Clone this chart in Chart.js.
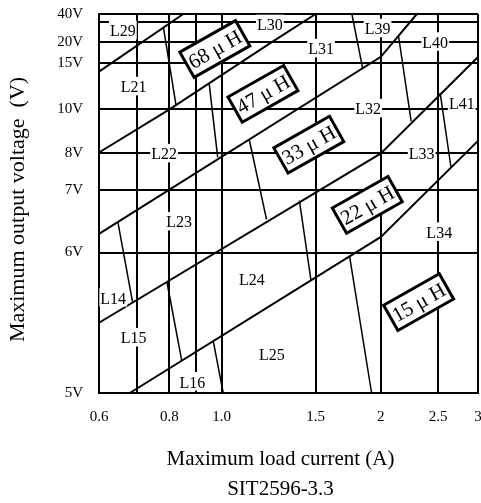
<!DOCTYPE html>
<html><head><meta charset="utf-8">
<script src="https://cdn.jsdelivr.net/npm/chart.js@4.4.1/dist/chart.umd.min.js"></script>
<style>html,body{margin:0;padding:0;background:#fff;}</style>
</head><body>
<canvas id="c" width="481" height="503" style="width:481px;height:503px;display:block"></canvas>
<script>
// ---------- data ----------
const currentTicks = [0.6, 0.7, 0.8, 0.9, 1.0, 1.5, 2, 2.5, 3];
const currentTickLabels = ['0.6', '', '0.8', '', '1.0', '1.5', '2', '2.5', '3'];
const voltageTicks = [5, 6, 7, 8, 10, 15, 20, 30, 40];
const voltageTickLabels = ['5V', '6V', '7V', '8V', '10V', '15V', '20V', '', '40V'];

// inductance band boundaries [current (A), voltage (V)]
const boundary100_68 = [[0.6, 14.1], [0.853, 40]];
const boundary68_47 = [[0.6, 8.04], [0.8, 10], [1.257, 19.6], [1.5, 40]];
const boundary47_33 = [[0.6, 6.3], [2.0, 16.5], [2.314, 40]];
const boundary33_22 = [[0.6, 5.5], [2.0, 8.0], [3.0, 16.46]];
const boundary22_15 = [[0.68, 5.0], [2.0, 6.25], [3.0, 8.57]];

// inductor code boundaries inside the bands
const split21_30 = [[0.781, 27.3], [0.825, 10.47]];
const split22_31 = [[0.952, 12.85], [0.985, 7.89]];
const split31_39 = [[1.778, 40], [1.860, 14.5]];
const split14_23 = [[0.649, 6.49], [0.687, 5.65]];
const split23_32 = [[1.147, 8.63], [1.239, 6.53]];
const split32_40 = [[2.154, 22.9], [2.264, 9.47]];
const split15_24 = [[0.792, 5.79], [0.847, 5.23]];
const split24_33 = [[1.414, 6.83], [1.476, 5.80]];
const split33_41 = [[2.525, 11.77], [2.66, 7.63]];
const split16_25 = [[0.968, 5.37], [1.0085, 5.0]];
const split25_34 = [[1.761, 5.97], [1.929, 5.0]];

const regionNames   = ['L29','L21','L22','L30','L31','L39','L40','L32','L41','L33','L34','L23','L14','L15','L24','L16','L25'];
const regionCurrent = [0.662,0.690,0.783,1.257,1.542,1.975,2.474,1.903,2.796,2.356,2.513,0.837,0.637,0.690,1.1615,0.888,1.268];
const regionVoltage = [25.4,12.42,7.98,28.5,18.31,26.45,19.81,10.03,10.58,8.0,6.318,6.486,5.674,5.39,5.803,5.076,5.276];

const inductorNames   = ['68 μ H', '47 μ H', '33 μ H', '22 μ H', '15 μ H'];
const inductorCurrent = [0.974, 1.22, 1.464, 1.896, 2.329];
const inductorVoltage = [18.31, 11.69, 8.395, 6.763, 5.647];

const xTitle = 'Maximum load current (A)';
const subTitle = 'SIT2596-3.3';
const yTitle = 'Maximum output voltage  (V)';

// ---------- piecewise scale (axis layout of the printed chart) ----------
class PiecewiseScale extends Chart.Scale {
  determineDataLimits() {
    const b = this.options.breaks;
    this.min = b[0]; this.max = b[b.length - 1];
  }
  buildTicks() { return this.options.breaks.map(v => ({ value: v })); }
  getLabelForValue(v) { return String(v); }
  _dec(v) {
    const b = this.options.breaks, d = this.options.fractions, n = b.length - 1;
    let i = 1;
    while (i < n && v > b[i]) i++;
    return d[i - 1] + (v - b[i - 1]) / (b[i] - b[i - 1]) * (d[i] - d[i - 1]);
  }
  getPixelForValue(v) { return this.getPixelForDecimal(this._dec(v)); }
  getPixelForTick(i) { return this.getPixelForValue(this.ticks[i].value); }
  getValueForPixel(p) {
    const dec = this.getDecimalForPixel(p);
    const b = this.options.breaks, d = this.options.fractions, n = b.length - 1;
    let i = 1;
    while (i < n && dec > d[i]) i++;
    return b[i - 1] + (dec - d[i - 1]) / (d[i] - d[i - 1]) * (b[i] - b[i - 1]);
  }
}
PiecewiseScale.id = 'piecewise';
PiecewiseScale.defaults = {};
Chart.register(PiecewiseScale);

const FONT = "'Liberation Serif', 'Times New Roman', serif";
Chart.defaults.font.family = FONT;
Chart.defaults.color = '#000';

const toPts = arr => arr.map(p => ({ x: p[0], y: p[1] }));
const bandLines = [boundary100_68, boundary68_47, boundary47_33, boundary33_22, boundary22_15];
const splitLines = [split21_30, split22_31, split31_39, split14_23, split23_32, split32_40,
                    split15_24, split24_33, split33_41, split16_25, split25_34];

const datasets = [];
bandLines.forEach(l => datasets.push({ data: toPts(l), borderColor: '#000', borderWidth: 2, pointRadius: 0, fill: false, tension: 0 }));
splitLines.forEach(l => datasets.push({ data: toPts(l), borderColor: '#000', borderWidth: 1.5, pointRadius: 0, fill: false, tension: 0 }));

const annotPlugin = {
  id: 'annot',
  afterDatasetsDraw(chart) {
    const { ctx } = chart;
    const xs = chart.scales.x, ys = chart.scales.y;
    ctx.save();
    // region codes
    const fs = 16;
    ctx.font = fs + 'px ' + FONT;
    ctx.textAlign = 'center';
    ctx.textBaseline = 'alphabetic';
    regionNames.forEach((t, i) => {
      const px = xs.getPixelForValue(regionCurrent[i]);
      const py = ys.getPixelForValue(regionVoltage[i]);
      const w = ctx.measureText(t).width;
      const base = py + fs * 0.33;
      ctx.fillStyle = '#fff';
      ctx.fillRect(px - w / 2 - 1, base - fs * 0.66 - 5, w + 2, fs * 0.66 + 8);
      ctx.fillStyle = '#000';
      ctx.fillText(t, px, base);
    });
    // inductance boxes
    const bf = 21;
    inductorNames.forEach((t, i) => {
      const px = xs.getPixelForValue(inductorCurrent[i]);
      const py = ys.getPixelForValue(inductorVoltage[i]);
      ctx.save();
      ctx.translate(px, py);
      ctx.rotate(-29.5 * Math.PI / 180);
      ctx.fillStyle = '#fff';
      ctx.fillRect(-32, -14.5, 64, 29);
      ctx.lineWidth = 3;
      ctx.strokeStyle = '#000';
      ctx.strokeRect(-32, -14.5, 64, 29);
      ctx.fillStyle = '#000';
      ctx.font = bf + 'px ' + FONT;
      ctx.textAlign = 'center';
      ctx.textBaseline = 'alphabetic';
      ctx.fillText(t, 0, bf * 0.34);
      ctx.restore();
    });
    ctx.restore();
  },
  afterDraw(chart) {
    const { ctx, chartArea } = chart;
    ctx.save();
    ctx.fillStyle = '#000';
    ctx.textAlign = 'center';
    ctx.textBaseline = 'middle';
    ctx.font = '21px ' + FONT;
    const cx = (chartArea.left + chartArea.right) / 2 - 8;
    ctx.fillText(xTitle, cx, chartArea.bottom + 66);
    ctx.fillText(subTitle, cx, chartArea.bottom + 96);
    ctx.translate(18, (chartArea.top + chartArea.bottom) / 2 + 6);
    ctx.rotate(-Math.PI / 2);
    ctx.font = '22px ' + FONT;
    ctx.fillText(yTitle, 0, 0);
    ctx.restore();
  }
};

new Chart(document.getElementById('c'), {
  type: 'line',
  data: { datasets },
  plugins: [annotPlugin],
  options: {
    responsive: false,
    devicePixelRatio: 1,
    animation: false,
    layout: { padding: { top: 14, right: 3, left: 0, bottom: 0 } },
    plugins: { legend: { display: false }, tooltip: { enabled: false }, title: { display: false } },
    scales: {
      x: {
        type: 'piecewise',
        breaks: currentTicks,
        fractions: [0, 0.1015, 0.186, 0.2548, 0.3235, 0.5714, 0.7437, 0.895, 1],
        grid: { color: '#000', lineWidth: 2, drawTicks: false },
        border: { display: true, color: '#000', width: 2 },
        ticks: {
          autoSkip: false, maxRotation: 0, padding: 15,
          font: { size: 15, family: FONT }, color: '#000',
          callback: (v, i) => currentTickLabels[i]
        },
        afterFit: s => { s.height = 110; s.paddingLeft = 0; s.paddingRight = 0; }
      },
      y: {
        type: 'piecewise',
        breaks: voltageTicks,
        fractions: [0, 0.3707, 0.5353, 0.6322, 0.7484, 0.8698, 0.9269, 0.9789, 1],
        grid: { color: '#000', lineWidth: 2, drawTicks: false },
        border: { display: true, color: '#000', width: 2 },
        ticks: {
          autoSkip: false, padding: 16,
          font: { size: 15, family: FONT }, color: '#000',
          callback: (v, i) => voltageTickLabels[i]
        },
        afterFit: s => { s.width = 99; s.paddingTop = 0; s.paddingBottom = 0; }
      }
    }
  }
});
</script>
</body></html>
